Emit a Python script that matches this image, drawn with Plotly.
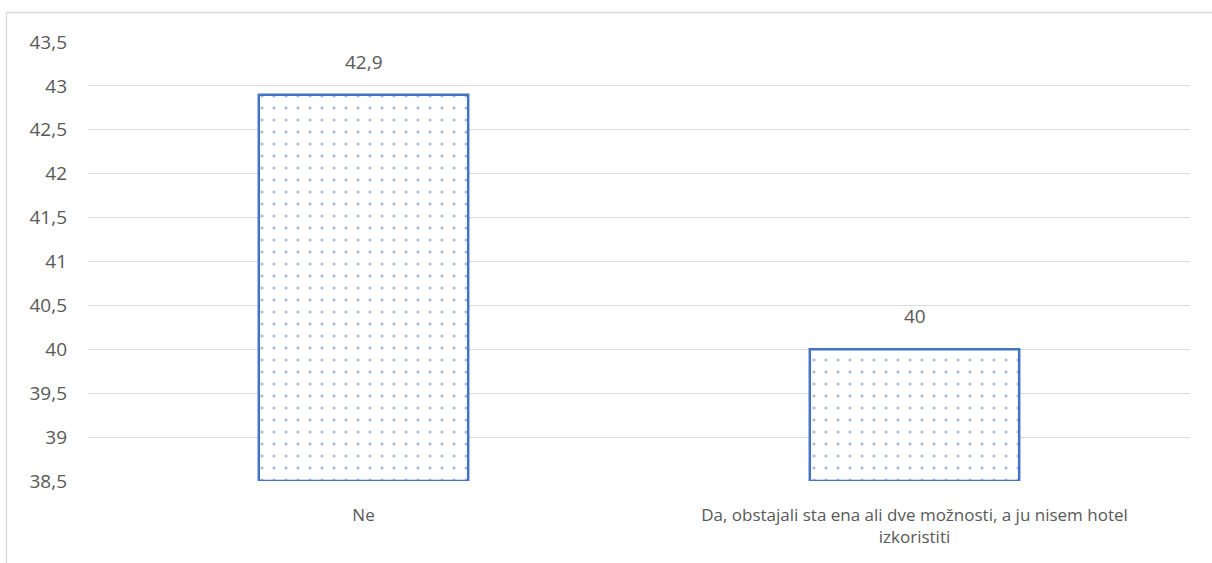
import plotly.graph_objects as go

categories = ["Ne", "Da, obstajali sta ena ali dve možnosti, a ju nisem hotel<br>izkoristiti"]
values = [42.9, 40.0]
labels = ["42,9", "40"]
tick_vals = [38.5, 39, 39.5, 40, 40.5, 41, 41.5, 42, 42.5, 43, 43.5]
y_min, y_max = 38.5, 43.5

W, H = 1212, 563
ml, mr, mt, mb = 88, 22, 42, 82
pw, ph = W - ml - mr, H - mt - mb

blue = "#4472C4"
gray_txt = "#595959"
font_family = "Open Sans, Liberation Sans, sans-serif"

fig = go.Figure()
fig.add_trace(go.Bar(
    x=categories, y=[v - y_min for v in values],
    base=y_min,
    width=0.38,
    marker=dict(
        color="white",
        line=dict(color=blue, width=2.5),
        pattern=dict(shape=".", fgcolor=blue, bgcolor="white", size=12, solidity=0.05, fillmode="overlay"),
    ),
    hoverinfo="skip",
))
for c, v, t in zip(categories, values, labels):
    fig.add_annotation(x=c, y=v, text=t, showarrow=False, yanchor="bottom", yshift=18,
                       font=dict(size=19, color=gray_txt, family=font_family))

fig.update_layout(
    width=W, height=H,
    margin=dict(l=ml, r=mr, t=mt, b=mb),
    paper_bgcolor="white", plot_bgcolor="white",
    separators=",.",
    font=dict(family=font_family, size=17, color=gray_txt),
    showlegend=False,
    xaxis=dict(showgrid=False, showline=False, ticks="", ticklabelstandoff=22,
               tickfont=dict(size=17, color=gray_txt)),
    yaxis=dict(range=[y_min, y_max], tickvals=tick_vals, ticktext=[f"{v:g}".replace(".", ",") for v in tick_vals],
               showgrid=True, gridcolor="#d9d9d9", gridwidth=1.2, zeroline=False, showline=False,
               ticks="", ticklabelstandoff=20, tickfont=dict(size=19, color=gray_txt)),
    shapes=[
        dict(type="line", xref="paper", yref="paper", x0=(6.5 - ml) / pw, x1=(W + 5 - ml) / pw,
             y0=(H - mb - 12.5) / ph, y1=(H - mb - 12.5) / ph, line=dict(color="#d9d9d9", width=1.3)),
        dict(type="line", xref="paper", yref="paper", x0=(6.5 - ml) / pw, x1=(6.5 - ml) / pw,
             y0=(H - mb - 12.5) / ph, y1=(-mb - 5) / ph, line=dict(color="#d9d9d9", width=1.3)),
    ],
)
fig.write_html("out.html", config={"displayModeBar": False},
               post_script="document.body.style.margin='0';document.body.style.overflow='hidden';")
